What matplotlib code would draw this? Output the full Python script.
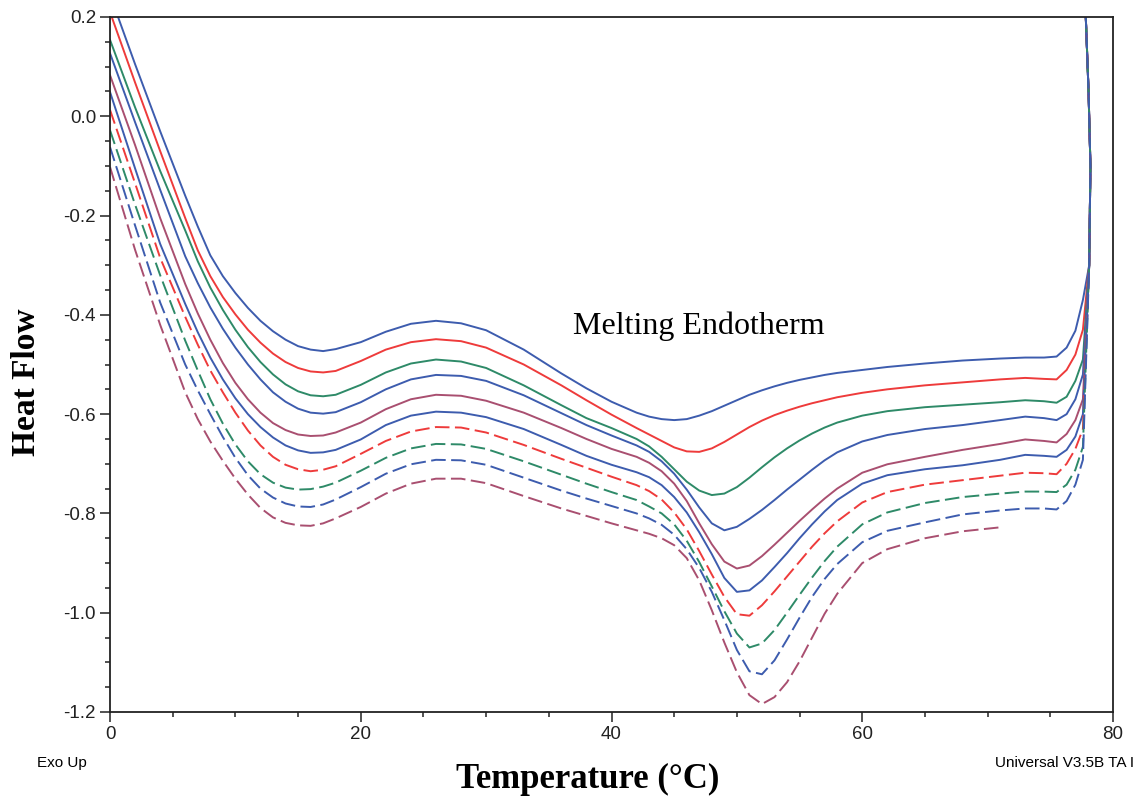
import numpy as np
import matplotlib
matplotlib.use('Agg')
import matplotlib.pyplot as plt
from matplotlib.ticker import MultipleLocator

# temperature grid (deg C) shared by all traces
temp = [0, 2, 4, 6, 7, 8, 9, 10, 11, 12, 13, 14, 15, 16, 17, 18, 20, 22, 24, 26, 28, 30,
        33, 36, 38, 40, 42, 43, 44, 45, 46, 47, 48, 49, 50, 51, 52, 53, 54, 55, 56, 57, 58,
        60, 62, 65, 68, 71, 73, 74.5, 75.5, 76.3, 77.0, 77.6]

# heat flow traces, top to bottom
hf_1 = [0.245, 0.105, -0.030, -0.160,
        -0.222, -0.280, -0.322, -0.356, -0.386, -0.412, -0.433, -0.450, -0.463, -0.470, -0.473, -0.469,
        -0.455, -0.434, -0.418, -0.412, -0.417, -0.431,
        -0.470, -0.518, -0.548, -0.575, -0.597,
        -0.605, -0.610, -0.612, -0.610, -0.603, -0.594, -0.583, -0.572, -0.561, -0.552, -0.544, -0.537,
        -0.531, -0.526, -0.521, -0.517,
        -0.511, -0.505, -0.498, -0.492, -0.488, -0.486,
        -0.486, -0.484, -0.466, -0.432, -0.370]
hf_2 = [0.210, 0.068, -0.070, -0.205,
        -0.270, -0.322, -0.364, -0.399, -0.430, -0.456, -0.478, -0.495, -0.507, -0.514, -0.516, -0.513,
        -0.493, -0.470, -0.455, -0.449, -0.453, -0.466,
        -0.500, -0.542, -0.572, -0.601, -0.628,
        -0.641, -0.654, -0.667, -0.675, -0.676, -0.669, -0.656, -0.641, -0.626, -0.613, -0.602, -0.593,
        -0.585, -0.578, -0.572, -0.566,
        -0.557, -0.550, -0.542, -0.536, -0.530, -0.527,
        -0.529, -0.530, -0.511, -0.480, -0.430]
hf_3 = [0.154, 0.018, -0.110, -0.230,
        -0.292, -0.345, -0.390, -0.430, -0.465, -0.495, -0.520, -0.540, -0.554, -0.562, -0.564, -0.561,
        -0.541, -0.516, -0.498, -0.490, -0.494, -0.507,
        -0.542, -0.582, -0.608, -0.628, -0.650,
        -0.665, -0.686, -0.711, -0.736, -0.754, -0.763, -0.760, -0.747, -0.728, -0.707, -0.687, -0.669,
        -0.653, -0.639, -0.627, -0.617,
        -0.603, -0.594, -0.586, -0.581, -0.576, -0.572,
        -0.574, -0.577, -0.565, -0.533, -0.490]
hf_4 = [0.127, -0.012, -0.148, -0.282,
        -0.336, -0.385, -0.428, -0.466, -0.500, -0.530, -0.556, -0.575, -0.589, -0.597, -0.599, -0.596,
        -0.576, -0.550, -0.530, -0.521, -0.523, -0.533,
        -0.562, -0.598, -0.622, -0.643, -0.663,
        -0.676, -0.695, -0.720, -0.752, -0.788, -0.820, -0.834, -0.827, -0.811, -0.793, -0.773, -0.752,
        -0.732, -0.712, -0.693, -0.677,
        -0.655, -0.642, -0.630, -0.622, -0.612, -0.605,
        -0.608, -0.612, -0.600, -0.570, -0.520]
hf_5 = [0.083, -0.058, -0.205, -0.338,
        -0.397, -0.450, -0.497, -0.537, -0.570, -0.597, -0.618, -0.632, -0.641, -0.644, -0.643, -0.637,
        -0.617, -0.590, -0.570, -0.561, -0.563, -0.573,
        -0.597, -0.628, -0.650, -0.670, -0.686,
        -0.698, -0.715, -0.740, -0.775, -0.820, -0.862, -0.897, -0.911, -0.905, -0.886, -0.863, -0.839,
        -0.815, -0.792, -0.770, -0.750,
        -0.718, -0.701, -0.686, -0.672, -0.660, -0.651,
        -0.654, -0.657, -0.640, -0.612, -0.570]
hf_6 = [0.049, -0.105, -0.257, -0.378,
        -0.435, -0.486, -0.530, -0.568, -0.600, -0.626, -0.647, -0.663, -0.673, -0.678, -0.677, -0.672,
        -0.651, -0.622, -0.603, -0.595, -0.597, -0.606,
        -0.630, -0.662, -0.684, -0.702, -0.717,
        -0.727, -0.743, -0.767, -0.798, -0.838, -0.882, -0.930, -0.958, -0.955, -0.935, -0.908, -0.880,
        -0.850, -0.822, -0.796, -0.773,
        -0.740, -0.723, -0.711, -0.703, -0.692, -0.682,
        -0.684, -0.686, -0.672, -0.645, -0.600]
hf_7 = [0.013, -0.135, -0.285, -0.404,
        -0.460, -0.512, -0.556, -0.597, -0.633, -0.663, -0.686, -0.702, -0.711, -0.715, -0.712, -0.705,
        -0.680, -0.654, -0.635, -0.626, -0.627, -0.637,
        -0.662, -0.690, -0.708, -0.726, -0.743,
        -0.755, -0.772, -0.798, -0.832, -0.876, -0.923, -0.968, -1.003, -1.006, -0.985, -0.957, -0.927,
        -0.897, -0.867, -0.840, -0.816,
        -0.778, -0.757, -0.742, -0.733, -0.724, -0.718,
        -0.719, -0.721, -0.700, -0.670, -0.630]
hf_8 = [-0.028, -0.178, -0.320, -0.452,
        -0.512, -0.570, -0.619, -0.661, -0.695, -0.721, -0.738, -0.748, -0.752, -0.751, -0.746, -0.738,
        -0.714, -0.688, -0.669, -0.660, -0.661, -0.670,
        -0.695, -0.722, -0.740, -0.757, -0.773,
        -0.786, -0.800, -0.822, -0.855, -0.898, -0.947, -0.997, -1.042, -1.070, -1.062, -1.035, -1.000,
        -0.964, -0.929, -0.896, -0.867,
        -0.822, -0.798, -0.779, -0.767, -0.760, -0.756,
        -0.756, -0.757, -0.742, -0.712, -0.666]
hf_9 = [-0.062, -0.220, -0.375, -0.500,
        -0.552, -0.600, -0.646, -0.688, -0.723, -0.750, -0.768, -0.780, -0.786, -0.787, -0.782, -0.772,
        -0.747, -0.720, -0.701, -0.692, -0.693, -0.702,
        -0.728, -0.754, -0.770, -0.785, -0.800,
        -0.810, -0.823, -0.843, -0.872, -0.910, -0.958, -1.015, -1.075, -1.118, -1.124, -1.096, -1.054,
        -1.010, -0.968, -0.932, -0.902,
        -0.858, -0.835, -0.818, -0.802, -0.794, -0.790,
        -0.790, -0.792, -0.775, -0.742, -0.692]
hf_10 = [-0.102, -0.269, -0.420, -0.556,
         -0.610, -0.655, -0.694, -0.730, -0.762, -0.789, -0.808, -0.819, -0.824, -0.825, -0.820, -0.810,
         -0.787, -0.760, -0.740, -0.730, -0.730, -0.739,
         -0.765, -0.790, -0.805, -0.820, -0.834,
         -0.841, -0.850, -0.864, -0.890, -0.935, -0.995, -1.060, -1.120, -1.166, -1.184, -1.170, -1.140,
         -1.098, -1.050, -1.002, -0.962,
         -0.900, -0.872, -0.850, -0.836, -0.828, np.nan,
         np.nan, np.nan, np.nan, np.nan, np.nan]

# steep end-of-run rise shared by the traces that reach it
tail_t = [78.1, 78.2, 78.05, 77.8]
tail_hf = [-0.30, -0.10, 0.05, 0.22]

yticks = [0.2, 0.0, -0.2, -0.4, -0.6, -0.8, -1.0, -1.2]
ylabels = ['0.2', '0.0', '-0.2', '-0.4', '-0.6', '-0.8', '-1.0', '-1.2']
xticks = [0, 20, 40, 60, 80]

blue, red, green, mauve = '#3d5cae', '#ee3b3b', '#2e8a68', '#a94f70'
traces = [hf_1, hf_2, hf_3, hf_4, hf_5, hf_6, hf_7, hf_8, hf_9, hf_10]
colors = [blue, red, green, blue, mauve, blue, red, green, blue, mauve]
dashed = [False] * 6 + [True] * 4

fig = plt.figure(figsize=(11.43, 7.99), dpi=100)
ax = fig.add_axes([110 / 1143, 1 - 712 / 799, 1003 / 1143, 695 / 799])

for i, hf in enumerate(traces):
    x = list(temp)
    y = list(hf)
    if i < 9:  # last trace stops before the rise
        x += tail_t
        y += tail_hf
    ls = (0, (7.5, 2.8)) if dashed[i] else '-'
    ax.plot(x, y, color=colors[i], lw=1.4, ls=ls,
            solid_joinstyle='round', dash_joinstyle='round')

ax.set_xlim(0, 80)
ax.set_ylim(-1.2, 0.2)
ax.set_xticks(xticks)
ax.set_xticklabels([str(t) for t in xticks])
ax.set_yticks(yticks)
ax.set_yticklabels(ylabels)
ax.xaxis.set_minor_locator(MultipleLocator(5))
ax.yaxis.set_minor_locator(MultipleLocator(0.05))
ax.tick_params(which='both', direction='out', top=False, right=False,
               colors='#222222', width=1.1)
ax.tick_params(which='major', length=7, labelsize=13.5, pad=3)
ax.tick_params(which='minor', length=3.5)
for lab in ax.get_xticklabels() + ax.get_yticklabels():
    lab.set_fontfamily('Liberation Sans')
for sp in ax.spines.values():
    sp.set_linewidth(1.3)
    sp.set_color('#222222')

ax.text(36.9, -0.4225, 'Melting Endotherm', family='Liberation Serif',
        fontsize=23, ha='left', va='center')

fig.text(27 / 1143, 1 - 382 / 799, 'Heat Flow', family='Liberation Serif',
         fontweight='bold', fontsize=24, rotation=90, ha='center', va='center')
fig.text(588 / 1143, 1 - 779 / 799, 'Temperature (°C)', family='Liberation Serif',
         fontweight='bold', fontsize=25, ha='center', va='center')
fig.text(37 / 1143, 1 - 763 / 799, 'Exo Up', family='Liberation Sans',
         fontsize=11, ha='left', va='center')
fig.text(995 / 1143, 1 - 763 / 799, 'Universal V3.5B TA I', family='Liberation Sans',
         fontsize=11, ha='left', va='center')

fig.savefig('out.png', dpi=100)
